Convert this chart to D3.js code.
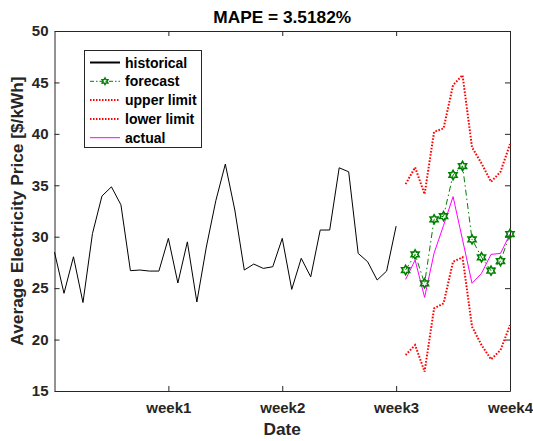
<!DOCTYPE html>
<html>
<head>
<meta charset="utf-8">
<script src="https://cdn.jsdelivr.net/npm/d3@7"></script>
<style>
  html, body { margin: 0; padding: 0; background: #fff; }
  svg { display: block; font-family: "Liberation Sans", Arial, sans-serif; }
</style>
</head>
<body>
<svg id="chart" width="533" height="441"></svg>
<script>
// Electricity price: 3 weeks of history followed by a one-week forecast window.
const historical = [28.5, 24.5, 28.05, 23.6, 30.3, 33.95, 34.85, 33.1, 26.7, 26.76, 26.66, 26.66,
  29.84, 25.5, 29.5, 23.65, 29.0, 33.5, 37.06, 32.6, 26.76, 27.34, 26.92, 27.08,
  29.84, 24.88, 27.9, 26.1, 30.65, 30.65, 36.7, 36.31, 28.38, 27.57, 25.79, 26.66, 31.03];
const forecast = [26.76, 28.28, 25.47, 31.69, 32.0, 36.0, 36.87, 29.74, 28.0, 26.7, 27.63, 30.26];
const upperLimit = [35.12, 36.74, 34.14, 40.2, 40.53, 44.74, 45.71, 38.68, 37.13, 35.34, 36.31, 39.0];
const lowerLimit = [18.5, 19.47, 16.88, 23.04, 23.52, 27.57, 28.0, 21.25, 19.47, 18.08, 18.98, 21.41];
const actual = [25.85, 27.73, 24.1, 28.4, 31.1, 33.9, 29.7, 25.47, 26.44, 28.28, 28.38, 30.26];

const weekTicks = [12, 24, 36, 48];
const weekLabels = ["week1", "week2", "week3", "week4"];
const yTicks = [15, 20, 25, 30, 35, 40, 45, 50];
const mape = "3.5182%";

const svg = d3.select("#chart");
const plotL = 54.5, plotR = 510, plotT = 31, plotB = 391;
const axisColor = "#262626";

const x = d3.scaleLinear().domain([0, 48]).range([plotL, plotR]);
const y = d3.scaleLinear().domain([15, 50]).range([plotB, plotT]);

const histPts = historical.map((v, i) => [i, v]);
const futStart = historical.length;
const toPts = arr => arr.map((v, i) => [futStart + i, v]);

const line = d3.line().x(d => x(d[0])).y(d => y(d[1]));

// plot area background
svg.append("rect").attr("x", plotL).attr("y", plotT)
  .attr("width", plotR - plotL).attr("height", plotB - plotT).attr("fill", "#fff");

// axes (ticks pointing inward on all four sides)
const tickFmt = d3.format("d");
const axL = svg.append("g").attr("transform", `translate(${plotL},0)`)
  .call(d3.axisLeft(y).tickValues(yTicks).tickFormat(tickFmt).tickSizeInner(-5).tickSizeOuter(0).tickPadding(6));
const axR = svg.append("g").attr("transform", `translate(${plotR},0)`)
  .call(d3.axisRight(y).tickValues(yTicks).tickFormat("").tickSizeInner(-5).tickSizeOuter(0));
const axB = svg.append("g").attr("transform", `translate(0,${plotB})`)
  .call(d3.axisBottom(x).tickValues(weekTicks).tickFormat((d, i) => weekLabels[i]).tickSizeInner(-5).tickSizeOuter(0).tickPadding(11));
const axT = svg.append("g").attr("transform", `translate(0,${plotT})`)
  .call(d3.axisTop(x).tickValues(weekTicks).tickFormat("").tickSizeInner(-5).tickSizeOuter(0));

[axL, axR, axB, axT].forEach(g => {
  g.selectAll(".domain").attr("stroke", axisColor).attr("stroke-width", 1);
  g.selectAll(".tick line").attr("stroke", axisColor);
  g.selectAll(".tick text").attr("fill", axisColor)
    .attr("font-size", 15).attr("font-weight", "bold")
    .attr("font-family", "'Liberation Sans', Arial, sans-serif");
});

// data series
svg.append("path").datum(histPts).attr("d", line)
  .attr("fill", "none").attr("stroke", "#000").attr("stroke-width", 1);

const green = "#008000";
svg.append("path").datum(toPts(forecast)).attr("d", line)
  .attr("fill", "none").attr("stroke", green).attr("stroke-width", 1)
  .attr("stroke-dasharray", "6,3,1.5,3");

svg.append("path").datum(toPts(upperLimit)).attr("d", line)
  .attr("fill", "none").attr("stroke", "#ff0000").attr("stroke-width", 2)
  .attr("stroke-dasharray", "1.6,1.6");
svg.append("path").datum(toPts(lowerLimit)).attr("d", line)
  .attr("fill", "none").attr("stroke", "#ff0000").attr("stroke-width", 2)
  .attr("stroke-dasharray", "1.6,1.6");

svg.append("path").datum(toPts(actual)).attr("d", line)
  .attr("fill", "none").attr("stroke", "#ff00ff").attr("stroke-width", 1);

// hexagram marker path centred at 0,0
function hexagram(r) {
  const pts = [];
  for (let k = 0; k < 12; k++) {
    const a = -Math.PI / 2 + k * Math.PI / 6;
    const rr = k % 2 === 0 ? r : r / Math.sqrt(3);
    pts.push([rr * Math.cos(a), rr * Math.sin(a)]);
  }
  return "M" + pts.map(p => p.join(",")).join("L") + "Z";
}
const hexPath = hexagram(4.6);

svg.append("g").selectAll("path").data(toPts(forecast)).join("path")
  .attr("transform", d => `translate(${x(d[0])},${y(d[1])})`)
  .attr("d", hexPath).attr("fill", "none")
  .attr("stroke", green).attr("stroke-width", 1.6);

// legend
const lg = svg.append("g");
lg.append("rect").attr("x", 84.5).attr("y", 50.5).attr("width", 117).attr("height", 97)
  .attr("fill", "#fff").attr("stroke", axisColor).attr("stroke-width", 1);
const legendItems = [
  { label: "historical", stroke: "#000", width: 2, dash: null, marker: false },
  { label: "forecast", stroke: green, width: 1, dash: "4,2,1.5,2", marker: true },
  { label: "upper limit", stroke: "#ff0000", width: 2, dash: "1.5,1.5", marker: false },
  { label: "lower limit", stroke: "#ff0000", width: 2, dash: "1.5,1.5", marker: false },
  { label: "actual", stroke: "#ff00ff", width: 1, dash: null, marker: false }
];
legendItems.forEach((it, i) => {
  const cy = 62.5 + i * 18.8;
  lg.append("line").attr("x1", 90).attr("x2", 120).attr("y1", cy).attr("y2", cy)
    .attr("stroke", it.stroke).attr("stroke-width", it.width)
    .attr("stroke-dasharray", it.dash);
  if (it.marker) {
    lg.append("path").attr("transform", `translate(105,${cy})`).attr("d", hexagram(3.4))
      .attr("fill", "none").attr("stroke", green).attr("stroke-width", 1.4);
  }
  lg.append("text").attr("x", 125).attr("y", cy + 5)
    .attr("font-size", 14).attr("font-weight", "bold").attr("fill", "#000")
    .text(it.label);
});

// title and axis labels
svg.append("text").attr("x", (plotL + plotR) / 2).attr("y", 23)
  .attr("text-anchor", "middle").attr("font-size", 17.3).attr("font-weight", "bold")
  .attr("fill", "#000").text("MAPE = " + mape);

svg.append("text").attr("x", (plotL + plotR) / 2).attr("y", 435)
  .attr("text-anchor", "middle").attr("font-size", 17.3).attr("font-weight", "bold")
  .attr("fill", axisColor).text("Date");

svg.append("text")
  .attr("transform", `translate(23,${(plotT + plotB) / 2}) rotate(-90)`)
  .attr("text-anchor", "middle").attr("font-size", 17.3).attr("font-weight", "bold")
  .attr("fill", axisColor).text("Average Electricity Price [$/kWh]");
</script>
</body>
</html>
